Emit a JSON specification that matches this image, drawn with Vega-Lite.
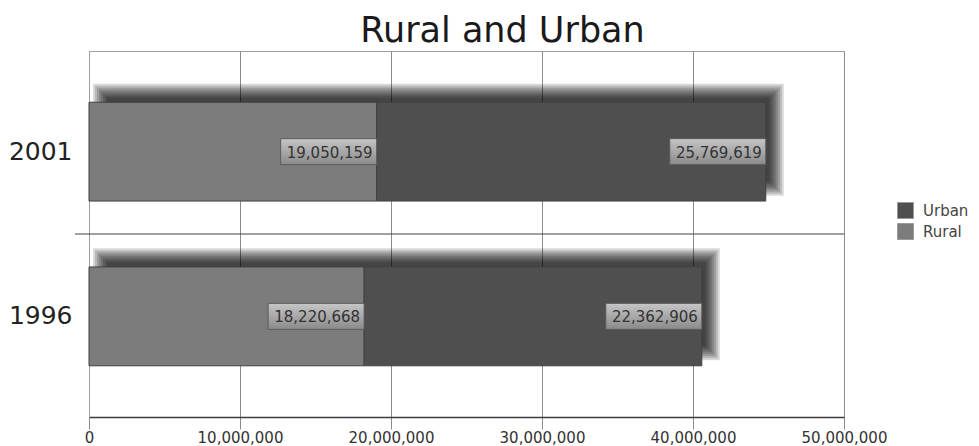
{
  "$schema": "https://vega.github.io/schema/vega-lite/v6.json",
  "width": 755,
  "height": 366,
  "autosize": {"type": "none"},
  "padding": {"left": 89, "top": 51, "right": 135, "bottom": 29},
  "background": "white",
  "config": {
    "font": "DejaVu Sans",
    "view": {"stroke": "#a0a0a0", "strokeWidth": 1}
  },
  "title": {
    "text": "Rural and Urban",
    "font": "DejaVu Sans",
    "fontSize": 35,
    "fontWeight": "normal",
    "color": "#1a1a1a",
    "anchor": "middle",
    "frame": "group",
    "dx": 36,
    "dy": 34,
    "offset": 8,
    "baseline": "alphabetic"
  },
  "data": {
    "values": [
      {"year": "2001", "type": "Rural", "population": 19050159},
      {"year": "2001", "type": "Urban", "population": 25769619},
      {"year": "1996", "type": "Rural", "population": 18220668},
      {"year": "1996", "type": "Urban", "population": 22362906}
    ]
  },
  "transform": [
    {"stack": "population", "groupby": ["year"], "sort": [{"field": "type", "order": "ascending"}], "as": ["x0", "x1"]}
  ],
  "layer": [
    {
      "layer": [
        {
          "transform": [{"filter": "datum.type === 'Urban'"}],
          "encoding": {
            "y": {"field": "year", "type": "nominal", "sort": ["2001", "1996"], "scale": {"domain": ["2001", "1996"], "paddingInner": 0.4, "paddingOuter": 0.311}},
            "x": {"field": "x1", "type": "quantitative"},
            "x2": {"datum": 0}
          },
          "layer": [
            {"mark": {"type": "bar", "color": "#000", "opacity": 0.15, "height": 112, "xOffset": 18, "x2Offset": 4, "yOffset": -12}},
            {"mark": {"type": "bar", "color": "#000", "opacity": 0.15, "height": 108, "xOffset": 16, "x2Offset": 6, "yOffset": -12}},
            {"mark": {"type": "bar", "color": "#000", "opacity": 0.15, "height": 104, "xOffset": 14, "x2Offset": 8, "yOffset": -12}},
            {"mark": {"type": "bar", "color": "#000", "opacity": 0.15, "height": 100, "xOffset": 12, "x2Offset": 10, "yOffset": -12}},
            {"mark": {"type": "bar", "color": "#000", "opacity": 0.15, "height": 96, "xOffset": 10, "x2Offset": 12, "yOffset": -12}},
            {"mark": {"type": "bar", "color": "#000", "opacity": 0.15, "height": 92, "xOffset": 8, "x2Offset": 14, "yOffset": -12}},
            {"mark": {"type": "bar", "color": "#000", "opacity": 0.15, "height": 88, "xOffset": 6, "x2Offset": 16, "yOffset": -12}},
            {"mark": {"type": "bar", "color": "#000", "opacity": 0.15, "height": 84, "xOffset": 4, "x2Offset": 18, "yOffset": -12}}
          ]
        },
        {
          "mark": {"type": "bar", "stroke": "#404040", "strokeWidth": 1},
          "encoding": {
            "y": {
              "field": "year", "type": "nominal", "sort": ["2001", "1996"],
              "scale": {"domain": ["2001", "1996"], "paddingInner": 0.4, "paddingOuter": 0.311},
              "axis": {"title": null, "ticks": false, "labelPadding": 17, "labelFontSize": 25, "labelColor": "#222", "domainColor": "#a0a0a0", "domainWidth": 1}
            },
            "x": {
              "field": "x0", "type": "quantitative",
              "scale": {"domain": [0, 50000000], "nice": false},
              "axis": {
                "title": null,
                "values": [0, 10000000, 20000000, 30000000, 40000000, 50000000],
                "format": ",d",
                "grid": true,
                "gridColor": "#8c8c8c",
                "gridWidth": 1,
                "domainColor": "#3c3c3c",
                "domainWidth": 1.5,
                "tickColor": "#8c8c8c",
                "tickSize": 12,
                "labelFontSize": 15,
                "labelColor": "#333",
                "labelPadding": 1,
                "labelFlush": false,
                "labelOverlap": false
              }
            },
            "x2": {"field": "x1"},
            "color": {
              "field": "type", "type": "nominal",
              "scale": {"domain": ["Urban", "Rural"], "range": ["#4f4f4f", "#7c7c7c"]},
              "legend": {
                "title": null,
                "orient": "none",
                "legendX": 808,
                "legendY": 151,
                "padding": 0,
                "symbolType": "square",
                "symbolSize": 256,
                "symbolStrokeColor": "#9a9a9a",
                "symbolStrokeWidth": 1,
                "symbolOpacity": 1,
                "rowPadding": 0,
                "labelOffset": 9,
                "labelFontSize": 15,
                "labelColor": "#444"
              }
            }
          }
        },
        {
          "mark": {
            "type": "bar",
            "height": 26,
            "x2Offset": -96,
            "stroke": "#5c5c5c",
            "strokeWidth": 1,
            "fill": {"gradient": "linear", "x1": 0, "y1": 0, "x2": 0, "y2": 1, "stops": [{"offset": 0, "color": "#c6c6c6"}, {"offset": 1, "color": "#8a8a8a"}]}
          },
          "encoding": {
            "y": {"field": "year", "type": "nominal", "sort": ["2001", "1996"]},
            "x": {"field": "x1", "type": "quantitative"},
            "x2": {"field": "x1"}
          }
        },
        {
          "mark": {"type": "text", "align": "right", "baseline": "middle", "dx": -4, "dy": 1, "fontSize": 15, "color": "#333"},
          "encoding": {
            "y": {"field": "year", "type": "nominal", "sort": ["2001", "1996"]},
            "x": {"field": "x1", "type": "quantitative"},
            "text": {"field": "population", "type": "quantitative", "format": ",d"}
          }
        }
      ]
    },
    {
      "data": {"values": [{}]},
      "mark": {"type": "rule", "color": "#404040", "strokeWidth": 1, "xOffset": -14},
      "encoding": {
        "y": {"datum": "1996", "type": "nominal", "bandPosition": 0, "scale": {"domain": ["2001", "1996"], "padding": 0}, "axis": null},
        "x": {"datum": 0, "type": "quantitative"},
        "x2": {"datum": 50000000}
      }
    }
  ],
  "resolve": {"scale": {"y": "independent"}}
}
